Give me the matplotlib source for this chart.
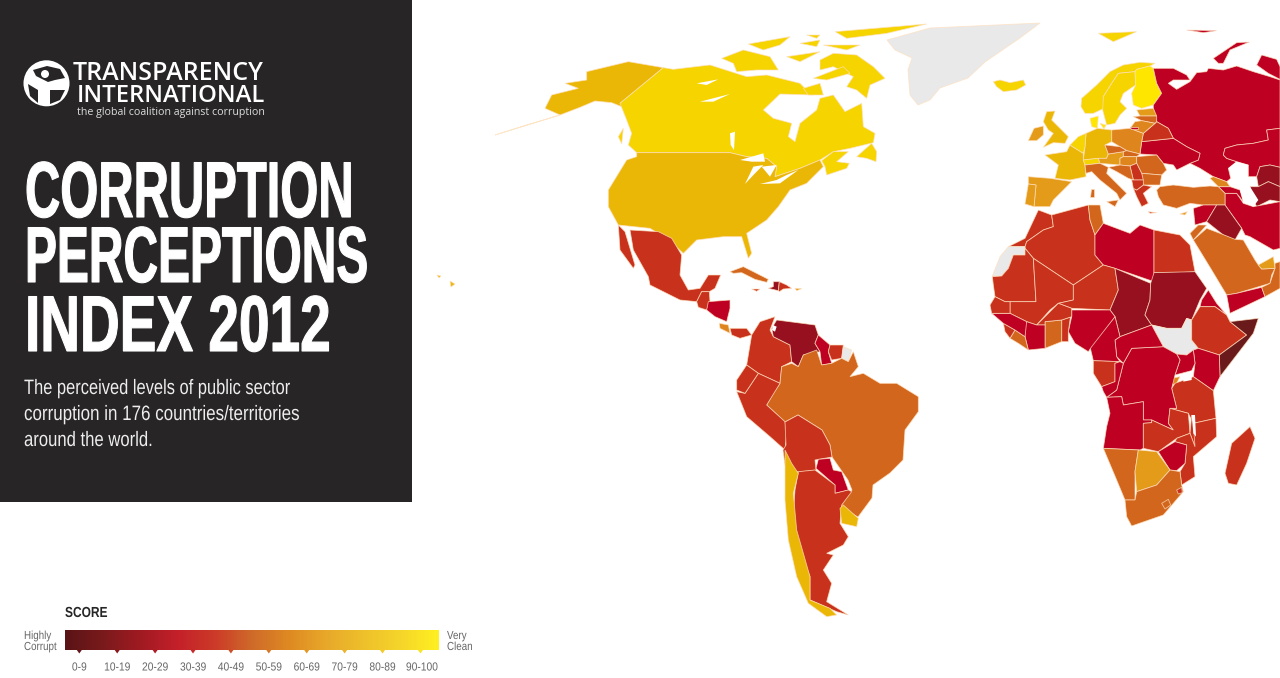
import numpy as np
import matplotlib
matplotlib.use("Agg")
import matplotlib.pyplot as plt
from matplotlib.patches import Polygon, Circle, Rectangle
from matplotlib.colors import LinearSegmentedColormap
from matplotlib.patheffects import AbstractPathEffect
from matplotlib.transforms import Affine2D

# ---------- data ----------
score_labels = ['0-9','10-19','20-29','30-39','40-49','50-59','60-69','70-79','80-89','90-100']
band_colors = ['#6a1a1b','#96101f','#be0022','#c8321c','#d2661c','#de851d','#e39b19','#ebb706','#f5d400','#ffe600']
gradient_colors = ['#5a1416','#7a1a1c','#a01a22','#c4202a','#cc3a28','#cf6a2a','#de8a22','#e8a82a','#eec02a','#f5d52a','#fff020']
scores = {
 'Canada':84,'USA':73,'Alaska':73,'Greenland':None,'Iceland':82,'Norway':85,'Sweden':88,'Finland':90,'Denmark':90,
 'Russia':28,'Kazakhstan':28,'Uzbekistan':17,'Turkmenistan':17,'Iran':28,'Azerbaijan':27,'Georgia':52,
 'Ukraine':26,'Belarus':31,'Poland':58,'Estonia':64,'Latvia':49,'Lithuania':54,'Kaliningrad':28,
 'Germany':79,'France':71,'Benelux':80,'Switzerland':86,'Austria':69,'Czechia':49,'Slovakia':46,'Hungary':55,
 'Romania':44,'Bulgaria':41,'Serbia':39,'Croatia':46,'Italy':42,'Greece':36,'Albania':33,'Turkey':49,
 'Spain':65,'Portugal':63,'UK':74,'Ireland':69,'Cyprus':66,'Syria':26,'Iraq':18,'Jordan':48,
 'Morocco':37,'Algeria':34,'Tunisia':41,'Libya':21,'Egypt':32,'Western Sahara':None,'Mauritania':31,'Mali':34,
 'Niger':33,'Chad':19,'Sudan':13,'South Sudan':None,'Eritrea':25,'Ethiopia':33,'Somalia':8,'Kenya':27,'Uganda':29,
 'Rwanda':53,'Tanzania':35,'DR Congo':21,'CAR':26,'Cameroon':26,'Gabon':35,'Congo':26,'Nigeria':27,'Benin':36,
 'Ghana':45,'Burkina Faso':38,'Ivory Coast':29,'Liberia':41,'Sierra Leone':31,'Guinea':24,'Senegal':36,
 'Angola':22,'Zambia':37,'Malawi':37,'Mozambique':31,'Zimbabwe':20,'Namibia':48,'Botswana':65,'South Africa':43,
 'Lesotho':45,'Swaziland':37,'Madagascar':32,'Saudi Arabia':44,'Yemen':23,'Oman':47,'UAE':68,
 'Mexico':34,'Guatemala':33,'Honduras':28,'Costa Rica':54,'Panama':38,'Colombia':36,'Venezuela':19,'Guyana':28,
 'Suriname':37,'French Guiana':None,'Brazil':43,'Peru':38,'Ecuador':32,'Bolivia':34,'Paraguay':25,'Argentina':35,
 'Chile':72,'Uruguay':72,'Cuba':48,'Haiti':19,'Dominican Republic':32,'Jamaica':38,'Puerto Rico':63,'Hawaii':73,
}

# ---------- map geometry (traced outlines) ----------
def tr(x0, y0, pts):
    return [(x0 + x / 3, y0 + y / 3) for x, y in pts]
NA = lambda p: tr(480, 20, p)
EU = lambda p: tr(960, 30, p)
AF = lambda p: tr(960, 200, p)
LA = lambda p: tr(600, 220, p)
SA = lambda p: tr(730, 430, p)

shapes = {
 'Alaska':[NA([(45,345),(140,315),(240,285),(195,265),(215,225),(295,205),(255,190),(320,180),(320,155),(445,125),(550,143),(420,250),(440,265),(465,320),(430,262),(395,248),(345,243),(300,262),(240,285)])],
 'Canada':[NA([(550,143),(580,148),(690,135),(800,170),(860,165),(960,190),(985,215),(1000,225),(900,222),(850,270),(880,295),(935,310),(925,350),(945,365),(960,310),(1010,270),(1020,235),(1060,225),(1095,275),(1145,250),(1150,320),(1185,340),(1180,368),(1110,385),(1060,395),(1020,420),(960,445),(885,470),(890,440),(860,415),(800,410),(750,398),(470,398),(445,375),(455,340),(440,300),(420,250)]),
   NA([(1020,120),(1060,100),(1130,105),(1180,140),(1215,175),(1170,195),(1160,235),(1130,210),(1100,200),(1120,170),(1060,140),(1020,150)]),
   NA([(725,115),(790,90),(870,110),(895,150),(830,150),(770,155),(760,130)]),
   NA([(805,72),(930,50),(900,75),(850,90)]),NA([(920,110),(1020,95),(960,125)]),NA([(960,70),(1020,60),(1010,80)]),
   NA([(1065,35),(1340,12),(1220,40),(1100,55)]),NA([(1030,75),(1140,75),(1100,90)]),NA([(980,45),(1020,45),(1010,55)]),
   NA([(1000,175),(1090,140),(1110,160),(1040,180)]),NA([(970,205),(1020,190),(1030,225),(985,225)]),
   NA([(1130,410),(1175,370),(1190,395),(1188,425),(1160,415)]),NA([(415,350),(430,325),(425,372)]),
   NA([(1025,422),(1060,395),(1105,395),(1070,425),(1108,430),(1100,445),(1040,465),(1035,440)])],
 'USA':[NA([(470,398),(750,398),(800,410),(860,415),(890,440),(885,470),(960,445),(1020,420),(1030,440),(980,490),(930,510),(895,560),(860,600),(800,640),(815,700),(805,715),(785,650),(730,650),(650,660),(610,700),(560,655),(510,625),(415,615),(385,560),(385,510),(440,420),(470,410)])],
 'Greenland':[[(887,40),(930,28),(1040,23),(1020,38),(985,62),(968,78),(940,88),(930,100),(918,105),(910,95),(908,70),(912,58),(895,50)]],
 'Iceland':[EU([(100,155),(120,150),(150,158),(190,150),(197,165),(170,180),(130,185),(110,170)])],
 'Norway':[EU([(365,205),(410,165),(450,125),(490,105),(540,97),(585,100),(570,108),(530,118),(525,125),(475,130),(455,160),(430,200),(432,235),(400,250),(375,250),(363,230)]),EU([(415,10),(530,5),(460,35)])],
 'Sweden':[EU([(430,200),(455,160),(475,130),(525,125),(527,165),(490,190),(480,215),(500,235),(480,255),(465,280),(440,285),(428,240)])],
 'Finland':[EU([(525,125),(530,118),(570,108),(580,115),(590,160),(605,190),(580,225),(545,235),(520,225),(515,190),(527,165)])],
 'Denmark':[EU([(390,265),(415,258),(412,295),(395,290)]),EU([(420,280),(438,285),(432,297)])],
 'Russia':[EU([(580,115),(640,115),(680,135),(690,150),(640,150),(625,160),(650,178),(690,155),(710,128),(740,125),(745,115),(790,120),(830,108),(880,125),(930,140),(960,150),(960,295),(920,300),(925,330),(880,340),(830,345),(795,355),(790,375),(800,385),(830,395),(805,415),(812,445),(800,455),(760,440),(720,415),(690,400),(715,390),(720,370),(680,350),(640,325),(625,295),(590,275),(580,235),(580,225),(605,190),(590,160)]),
   EU([(760,85),(830,38),(868,36),(810,60),(790,100),(775,100)]),EU([(890,105),(905,75),(950,88),(960,110),(960,148),(925,130)]),EU([(680,0),(770,2),(730,8)])],
 'Kazakhstan':[EU([(795,355),(830,345),(880,340),(925,330),(920,300),(960,295),(960,412),(930,405),(900,410),(890,440),(865,440),(865,405),(830,395),(800,385),(790,375)])],
 'Uzbekistan':[EU([(900,410),(930,405),(960,412),(960,470),(925,455),(895,470),(890,440)])],
 'Turkmenistan':[EU([(870,470),(895,470),(925,455),(960,470),(960,515),(930,510),(890,530),(880,510)])],
 'Iran':[EU([(795,490),(830,490),(850,520),(880,530),(960,515),(960,655),(940,660),(870,620),(855,615),(845,595),(795,525)])],
 'Azerbaijan':[EU([(775,470),(810,470),(840,480),(850,515),(830,490),(795,490)])],
 'Georgia':[EU([(750,445),(760,440),(800,455),(810,470),(775,470)])],
 'Ukraine':[EU([(545,335),(640,325),(680,350),(720,370),(715,390),(690,400),(650,420),(640,405),(610,400),(590,375),(540,372)])],
 'Belarus':[EU([(550,310),(585,280),(590,275),(625,295),(640,325),(545,335)])],
 'Poland':[EU([(455,300),(510,295),(550,310),(545,335),(540,372),(500,362),(480,350),(455,335)])],
 'Estonia':[EU([(530,240),(580,235),(590,258),(540,258)])],
 'Latvia':[EU([(520,260),(540,258),(590,258),(590,275),(585,280),(545,272)])],
 'Lithuania':[EU([(525,275),(545,272),(585,280),(550,310),(510,295)])],
 'Kaliningrad':[EU([(510,290),(535,290),(535,297),(512,297)])],
 'Germany':[EU([(378,310),(412,295),(455,300),(455,335),(435,345),(445,372),(440,385),(415,385),(370,390),(375,350)])],
 'France':[EU([(255,375),(320,365),(330,345),(370,370),(370,390),(375,405),(378,440),(330,450),(285,445),(295,405)])],
 'Benelux':[EU([(330,345),(355,320),(378,310),(375,350),(370,370)])],
 'Switzerland':[EU([(370,390),(415,385),(420,400),(375,405)])],
 'Austria':[EU([(415,385),(440,385),(445,372),(490,365),(490,380),(480,385),(480,405),(420,400)])],
 'Czechia':[EU([(435,345),(480,350),(500,362),(490,365),(445,372)])],
 'Slovakia':[EU([(490,365),(500,362),(540,372),(530,380),(490,380)])],
 'Hungary':[EU([(480,385),(490,380),(530,380),(530,400),(510,408),(480,405)])],
 'Romania':[EU([(530,380),(590,375),(610,400),(620,420),(605,435),(545,430),(530,400)])],
 'Bulgaria':[EU([(545,430),(605,435),(600,465),(550,465)])],
 'Serbia':[EU([(510,408),(530,400),(545,430),(550,450),(520,450)])],
 'Croatia':[EU([(445,412),(480,405),(510,408),(520,450),(505,445),(470,425)])],
 'Italy':[EU([(375,405),(420,400),(445,412),(440,430),(490,480),(500,490),(480,510),(470,490),(420,450),(395,425),(378,430)]),EU([(440,515),(475,510),(465,530)]),EU([(392,478),(403,478),(403,500),(390,500)])],
 'Greece':[EU([(520,475),(530,480),(550,465),(575,470),(550,490),(565,520),(545,530),(530,500)]),EU([(565,545),(590,548),(570,550)])],
 'Albania':[EU([(515,450),(550,450),(550,465),(530,480),(520,475)])],
 'Turkey':[EU([(590,480),(600,470),(640,465),(700,472),(750,468),(775,470),(795,490),(795,525),(770,525),(730,525),(690,520),(650,535),(610,525),(595,500)])],
 'Spain':[EU([(205,440),(270,445),(335,455),(300,490),(280,510),(270,530),(222,530),(228,465),(205,462)])],
 'Portugal':[EU([(205,462),(228,465),(222,530),(195,522)])],
 'UK':[EU([(260,245),(285,243),(275,270),(305,300),(325,320),(315,340),(280,338),(250,352),(280,310),(265,300),(250,275)])],
 'Ireland':[EU([(205,332),(222,295),(250,288),(250,315),(230,332)])],
 'Cyprus':[EU([(660,552),(682,545),(675,555)])],
 'Syria':[EU([(700,535),(730,525),(770,525),(740,575),(705,585)])],
 'Iraq':[EU([(770,525),(795,525),(845,595),(825,630),(790,615),(740,575)])],
 'Jordan':[AF([(690,100),(715,75),(740,75),(700,120)])],
 'Morocco':[AF([(145,140),(175,125),(195,115),(235,30),(275,45),(280,80),(250,90),(200,125),(195,140)])],
 'Algeria':[AF([(200,125),(250,90),(280,80),(275,45),(385,15),(390,60),(405,105),(405,165),(430,195),(340,255),(220,175),(195,145),(195,140)])],
 'Tunisia':[AF([(385,15),(420,15),(430,70),(405,105),(390,60)])],
 'Libya':[AF([(430,70),(510,100),(540,75),(582,90),(582,245),(465,205),(430,195),(405,165),(405,105)])],
 'Egypt':[AF([(582,90),(660,105),(690,135),(705,215),(660,218),(582,218)])],
 'Western Sahara':[AF([(145,140),(195,140),(195,165),(160,165),(145,205),(125,228),(97,228),(120,170)])],
 'Mauritania':[AF([(97,230),(125,228),(145,205),(160,165),(195,165),(195,145),(220,175),(228,305),(135,305),(105,290),(100,255)])],
 'Mali':[AF([(220,175),(340,255),(340,300),(295,310),(270,330),(230,375),(200,365),(150,340),(150,305),(228,305)])],
 'Niger':[AF([(340,255),(430,195),(465,205),(475,270),(450,330),(335,325),(295,310),(340,300)])],
 'Chad':[AF([(465,205),(572,250),(570,300),(555,345),(575,375),(480,410),(465,350),(450,330),(475,270)])],
 'Sudan':[AF([(582,218),(705,215),(740,265),(720,300),(695,360),(680,355),(665,385),(620,385),(575,375),(555,345),(570,300),(572,250)])],
 'South Sudan':[AF([(575,375),(620,385),(665,385),(680,355),(695,360),(695,420),(715,445),(680,465),(650,462),(610,440)])],
 'Eritrea':[AF([(720,320),(725,300),(745,270),(770,310),(800,345),(765,320)])],
 'Ethiopia':[AF([(695,360),(720,320),(765,320),(800,345),(810,365),(860,405),(778,465),(715,445),(695,420)])],
 'Somalia':[AF([(810,365),(895,355),(880,400),(780,530),(778,465),(860,405)])],
 'Kenya':[AF([(700,450),(715,445),(778,465),(780,530),(760,572),(700,530),(705,490)])],
 'Uganda':[AF([(650,462),(680,465),(700,450),(705,490),(695,512),(645,525),(660,480)])],
 'Rwanda':[AF([(635,535),(660,530),(650,550),(637,555)])],
 'Tanzania':[AF([(645,550),(700,530),(760,572),(768,655),(700,670),(685,640),(630,625),(650,625),(635,565)])],
 'DR Congo':[AF([(515,445),(610,440),(650,462),(660,480),(645,525),(635,565),(650,625),(630,625),(625,670),(640,690),(575,660),(550,660),(550,605),(490,615),(485,590),(440,592),(470,570),(490,490)])],
 'CAR':[AF([(465,420),(480,410),(575,375),(610,440),(515,445),(490,490),(470,470)])],
 'Cameroon':[AF([(390,440),(465,350),(480,410),(465,420),(470,470),(480,485),(400,482)])],
 'Gabon':[AF([(400,482),(480,485),(465,490),(465,545),(425,560),(400,520)])],
 'Congo':[AF([(465,490),(480,485),(490,490),(470,570),(440,592),(430,575),(425,560),(465,545)])],
 'Nigeria':[AF([(335,330),(450,330),(465,350),(395,440),(385,455),(345,430),(325,395),(335,350)])],
 'Benin':[AF([(305,360),(335,350),(335,325),(325,395),(325,425),(305,425)])],
 'Ghana':[AF([(255,365),(305,360),(305,425),(255,445)])],
 'Burkina Faso':[AF([(230,375),(295,310),(335,325),(335,350),(305,360),(255,365),(255,375)])],
 'Ivory Coast':[AF([(195,375),(200,365),(230,375),(255,375),(255,445),(205,450),(195,410)])],
 'Liberia':[AF([(150,415),(165,390),(195,410),(205,450),(175,430)])],
 'Sierra Leone':[AF([(130,370),(165,390),(150,415),(135,395)])],
 'Guinea':[AF([(95,340),(150,340),(200,365),(195,410),(165,390),(130,370)])],
 'Senegal':[AF([(90,315),(105,290),(135,305),(150,305),(150,340),(95,340)])],
 'Angola':[AF([(440,592),(485,590),(490,615),(550,605),(550,660),(575,660),(575,668),(550,670),(550,745),(540,750),(430,745),(440,680),(450,640)])],
 'Zambia':[AF([(550,670),(575,668),(575,660),(640,690),(625,670),(630,625),(685,640),(690,700),(650,715),(595,755),(550,745)])],
 'Malawi':[AF([(695,645),(710,710),(705,740),(690,700)])],
 'Mozambique':[AF([(700,670),(768,655),(770,710),(700,770),(705,830),(665,855),(660,815),(675,790),(680,735),(645,725),(650,715),(690,700),(705,740)])],
 'Zimbabwe':[AF([(595,755),(645,725),(680,735),(675,790),(650,812),(630,810)])],
 'Namibia':[AF([(430,745),(535,750),(525,815),(525,900),(495,900),(470,840)])],
 'Botswana':[AF([(535,750),(590,755),(630,810),(590,855),(530,875),(525,815)])],
 'South Africa':[AF([(495,900),(525,900),(530,875),(590,855),(630,810),(660,815),(665,855),(670,875),(610,945),(515,978),(500,950)])],
 'Lesotho':[AF([(605,910),(625,898),(632,915),(615,927)])],
 'Swaziland':[AF([(650,870),(665,862),(667,878),(655,882)])],
 'Madagascar':[AF([(795,820),(815,730),(870,680),(885,715),(860,790),(830,855),(805,850)])],
 'Saudi Arabia':[AF([(700,120),(740,85),(780,100),(825,118),(850,120),(885,180),(895,195),(905,207),(945,205),(935,225),(930,250),(830,280),(800,285),(755,210)])],
 'Yemen':[AF([(800,285),(830,280),(905,262),(915,290),(810,340)])],
 'Oman':[AF([(905,262),(930,250),(945,205),(945,190),(960,185),(960,265),(915,290)])],
 'UAE':[AF([(895,195),(940,170),(945,205),(905,207)])],
 'Mexico':[LA([(90,30),(175,35),(215,55),(245,105),(240,165),(265,210),(300,205),(325,165),(362,165),(345,205),(328,215),(305,215),(290,245),(240,240),(150,195),(145,170),(100,90)]),LA([(55,15),(75,35),(105,135),(100,145),(60,90)])],
 'Guatemala':[LA([(290,245),(305,215),(328,215),(330,245),(320,270),(295,262)])],
 'Honduras':[LA([(325,245),(390,240),(390,265),(380,305),(345,290),(320,270)])],
 'Costa Rica':[LA([(358,310),(385,315),(390,340),(360,325)])],
 'Panama':[LA([(390,325),(440,325),(455,345),(420,355),(395,345)])],
 'Colombia':[LA([(455,345),(480,305),(525,290),(510,330),(520,350),(570,375),(575,425),(545,440),(540,490),(475,460),(440,435)])],
 'Venezuela':[LA([(515,325),(530,300),(645,315),(655,345),(645,370),(660,395),(610,405),(595,440),(575,425),(570,375),(520,350)])],
 'Guyana':[LA([(655,345),(690,375),(685,395),(695,430),(665,435),(660,395),(645,370)])],
 'Suriname':[LA([(690,375),(730,375),(725,415),(695,420),(685,395)])],
 'French Guiana':[LA([(730,380),(755,390),(745,425),(725,415)])],
 'Brazil':[LA([(500,555),(520,520),(540,490),(545,440),(575,430),(595,440),(610,405),(650,390),(665,435),(695,430),(725,415),(745,425),(760,395),(775,440),(750,470),(790,460),(840,490),(890,490),(955,530),(955,575),(915,630)])+[(903,460),(890,473),(873,485),(872,498),(858,517),(840,507),(852,490),(848,480),(832,457),(830,445),(822,430),(798,415),(785,422)]],
 'Peru':[LA([(410,515),(435,520),(475,460),(540,490),(500,555),(555,605),(560,640),(555,690),(510,650),(440,590)])],
 'Ecuador':[LA([(410,480),(440,435),(475,460),(435,520),(410,510)])],
 'Bolivia':[[(785,422),(798,415),(822,430),(830,445),(832,457),(815,460),(816,470),(798,472),(785,465),(783,450),(786,445)]],
 'Paraguay':[SA([(258,115),(265,88),(300,85),(310,120),(335,125),(355,180),(315,190),(315,165)])],
 'Argentina':[SA([(205,125),(255,120),(315,165),(315,190),(355,180),(365,185),(335,225),(330,280),(355,320),(340,345),(290,370),(310,375),(280,420),(305,460),(290,515),(355,555),(320,545),(240,510),(240,440),(205,350),(190,250),(195,180)])],
 'Chile':[SA([(165,60),(185,100),(205,130),(190,190),(200,300),(240,440),(240,510),(300,535),(320,555),(290,560),(235,520),(200,440),(175,330),(165,210)])],
 'Uruguay':[SA([(330,235),(340,225),(385,265),(380,290),(335,280)])],
 'Cuba':[LA([(390,155),(430,140),(460,155),(505,178),(500,187),(465,178),(425,158),(400,160)])],
 'Haiti':[LA([(505,205),(520,200),(520,185),(538,185),(535,212)])],
 'Dominican Republic':[LA([(538,185),(560,195),(575,205),(550,207),(538,215),(535,212)])],
 'Jamaica':[LA([(455,207),(480,207),(470,214)])],
 'Puerto Rico':[LA([(585,205),(605,206),(590,212)])],
 'Hawaii':[[(450,281),(455,284),(451,287)],[(437,275),(441,276),(439,278)]],
}
water = [
 NA([(650,190),(715,178),(680,195)]),NA([(660,245),(750,222),(700,245)]),NA([(750,340),(765,335),(762,390),(752,375)]),
 NA([(780,420),(850,400),(855,425),(815,425)]),NA([(795,492),(820,440),(850,435),(825,460)]),NA([(845,440),(890,435),(870,470)]),
 NA([(840,492),(890,480),(920,465),(955,450),(900,490)]),
 AF([(670,525),(695,512),(695,540),(670,545)]),AF([(695,645),(705,645),(708,710),(700,700)]),
 EU([(805,415),(830,395),(865,405),(845,440),(870,470),(895,510),(880,530),(850,515),(840,480),(830,440)]),
 LA([(518,315),(530,320),(525,335),(516,330)]),
]

# ---------- figure ----------
H = 678
fig = plt.figure(figsize=(12.8, 6.78), dpi=100)
ax = fig.add_axes([0, 0, 1, 1])
ax.set_xlim(0, 1280); ax.set_ylim(H, 0); ax.axis('off')

def band(v):
    return '#e9e9e9' if v is None else band_colors[min(v // 10, 9)]
for name, polys in shapes.items():
    for poly in polys:
        ax.add_patch(Polygon(poly, closed=True, facecolor=band(scores[name]), edgecolor=(1, 0.88, 0.75, 0.75), linewidth=0.6, zorder=2))
for poly in water:
    ax.add_patch(Polygon(poly, closed=True, facecolor='white', edgecolor='none', zorder=3))

# ---------- dark panel ----------
ax.add_patch(Rectangle((0, 0), 412, 502, facecolor='#272526', edgecolor='none', zorder=4))

class Squeeze(AbstractPathEffect):
    """Scale a text about a point (image pixels); the installed fonts have no condensed cut."""
    def __init__(self, sx, x0, sy=1.0, y0=0.0, stroke=0.0):
        super().__init__()
        self.sx, self.sy, self.x0, self.y0, self.stroke = sx, sy, x0, H - y0, stroke
    def draw_path(self, renderer, gc, tpath, affine, rgbFace=None):
        aff = affine + Affine2D().translate(-self.x0, -self.y0).scale(self.sx, self.sy).translate(self.x0, self.y0)
        g = renderer.new_gc(); g.copy_properties(gc)
        if self.stroke:
            g.set_linewidth(self.stroke); g.set_foreground(rgbFace)
        else:
            g.set_linewidth(0)
        renderer.draw_path(g, tpath, aff, rgbFace)
        g.restore()

SANS = 'Liberation Sans'
title_lines = ['CORRUPTION', 'PERCEPTIONS', 'INDEX 2012']
title_y = [217, 282, 351]
title_squeeze = [0.88, 0.862, 0.99]
for line, y, f in zip(title_lines, title_y, title_squeeze):
    ax.text(25, y, line, color='white', fontsize=40, fontweight='bold', family=SANS, va='baseline', ha='left', zorder=5,
            path_effects=[Squeeze(f, 25, 1.425, y, stroke=0.8)])
sub_lines = ['The perceived levels of public sector', 'corruption in 176 countries/territories', 'around the world.']
for line, y, f in zip(sub_lines, [394, 420, 446], [0.79, 0.815, 0.8]):
    ax.text(24, y, line, color='#eeeeee', fontsize=15, family=SANS, va='baseline', ha='left', zorder=5,
            path_effects=[Squeeze(f, 24)])

# logo
ax.add_patch(Circle((46.5, 83.3), 23, facecolor='white', edgecolor='none', zorder=5))
dark = [[(33,70),(47,66),(60,69),(65,78),(55,80),(48,82),(36,76)],
        [(50,90),(65,90),(60,100),(50,104)],
        [(28,84),(38,90),(38,103),(30,96)]]
for poly in dark:
    ax.add_patch(Polygon(poly, closed=True, facecolor='#272526', edgecolor='none', zorder=6))
ax.add_patch(Circle((45, 74), 4, facecolor='white', edgecolor='none', zorder=7))
ax.text(73, 80, 'TRANSPARENCY', color='white', fontsize=18, fontweight='semibold', family='Open Sans', va='baseline', zorder=5)
ax.text(77, 102.5, 'INTERNATIONAL', color='white', fontsize=17.2, fontweight='semibold', family='Open Sans', va='baseline', zorder=5)
ax.text(77, 115, 'the global coalition against corruption', color='#dddddd', fontsize=7.7, family='Open Sans', va='baseline', zorder=5)

# ---------- legend ----------
cmap = LinearSegmentedColormap.from_list('cpi', gradient_colors)
grad = np.linspace(0, 1, 400)[None, :]
ax.imshow(grad, extent=(65, 438.5, 650, 630), cmap=cmap, aspect='auto', zorder=2, interpolation='bilinear')
ax.set_xlim(0, 1280); ax.set_ylim(H, 0)
bar_left, bar_step = 79.3, 37.9
for i, lab in enumerate(score_labels):
    xc = bar_left + bar_step * i
    ax.add_patch(Polygon([(xc - 2.5, 650), (xc + 2.5, 650), (xc, 653.5)], closed=True, facecolor=cmap((xc - 65) / 373.5), edgecolor='none', zorder=3))
    xt = xc + (1.5 if i == 9 else 0)
    ax.text(xt, 670.5, lab, color='#666666', fontsize=8.4, family=SANS, ha='center', va='baseline', path_effects=[Squeeze(0.88, xt)])
ax.text(65, 617, 'SCORE', color='#272526', fontsize=10.5, fontweight='bold', family=SANS, va='baseline', path_effects=[Squeeze(0.82, 65)])
for x, y, s in [(24, 639, 'Highly'), (24, 650, 'Corrupt'), (447, 639, 'Very'), (447, 650, 'Clean')]:
    ax.text(x, y, s, color='#666666', fontsize=8.4, family=SANS, va='baseline', path_effects=[Squeeze(0.84, x)])

fig.savefig('out.png', dpi=100, facecolor='white')
